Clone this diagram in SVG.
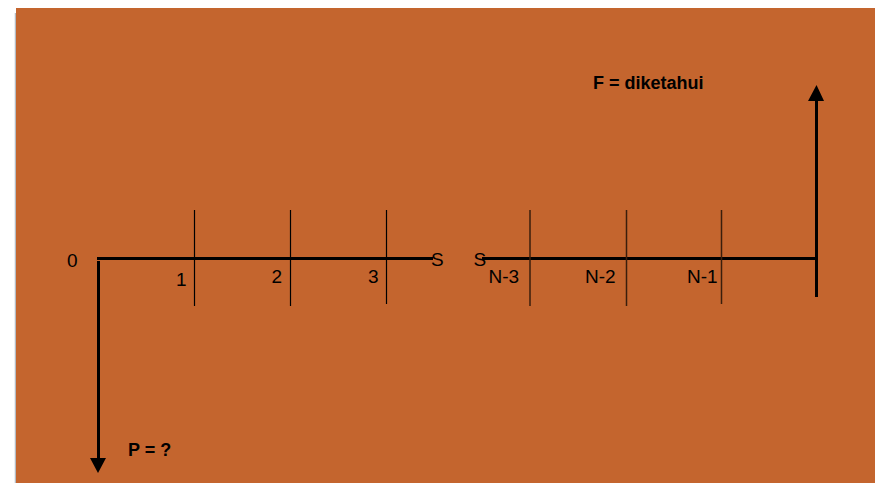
<svg xmlns="http://www.w3.org/2000/svg" width="875" height="483" viewBox="0 0 875 483">
<style>
.lbl{font-family:"Liberation Sans",Arial,sans-serif;font-size:19px;fill:#000}
.b{font-weight:bold;font-size:18px}
.axis{stroke:#000;stroke-width:3;fill:none}
.tick{stroke:#000;stroke-width:1.2}
.tickb{stroke:#3a1e0c;stroke-width:1.5}
</style>
<rect x="0" y="0" width="875" height="483" fill="#fff"/>
<line x1="15.5" y1="13" x2="15.5" y2="483" stroke="#b4bcc4" stroke-width="1.5"/>
<rect x="16" y="8" width="859" height="475" fill="#C4652E"/>
<g id="connectors">
<line class="axis" x1="97" y1="258.5" x2="433" y2="258.5"/>
<line class="axis" x1="482" y1="258.5" x2="818" y2="258.5"/>
<line class="axis" x1="98.5" y1="261" x2="98.5" y2="458"/>
<path d="M90,458 L106,458 L98,473 Z" fill="#000"/>
<line class="axis" x1="816.5" y1="297" x2="816.5" y2="100"/>
<path d="M808,101 L824,101 L816.5,85 Z" fill="#000"/>
<line class="tick" x1="194.5" y1="210" x2="194.5" y2="306"/>
<line class="tick" x1="290.5" y1="210" x2="290.5" y2="306"/>
<line class="tick" x1="386.5" y1="210" x2="386.5" y2="304"/>
<line class="tickb" x1="530" y1="210" x2="530" y2="306"/>
<line class="tickb" x1="626.5" y1="210" x2="626.5" y2="306"/>
<line class="tickb" x1="721.5" y1="210" x2="721.5" y2="304"/>
</g>
<g id="labels">
<text class="lbl" x="67" y="266.5">0</text>
<text class="lbl" x="176" y="285.5">1</text>
<text class="lbl" x="271.5" y="283">2</text>
<text class="lbl" x="368" y="283">3</text>
<text class="lbl" x="431" y="265.5">S</text>
<text class="lbl" x="473.5" y="265.5">S</text>
<text class="lbl" x="488.5" y="283">N-3</text>
<text class="lbl" x="585" y="283">N-2</text>
<text class="lbl" x="687" y="283">N-1</text>
<text class="lbl b" x="593" y="89">F = diketahui</text>
<text class="lbl b" x="128" y="456">P = ?</text>
</g>
</svg>
